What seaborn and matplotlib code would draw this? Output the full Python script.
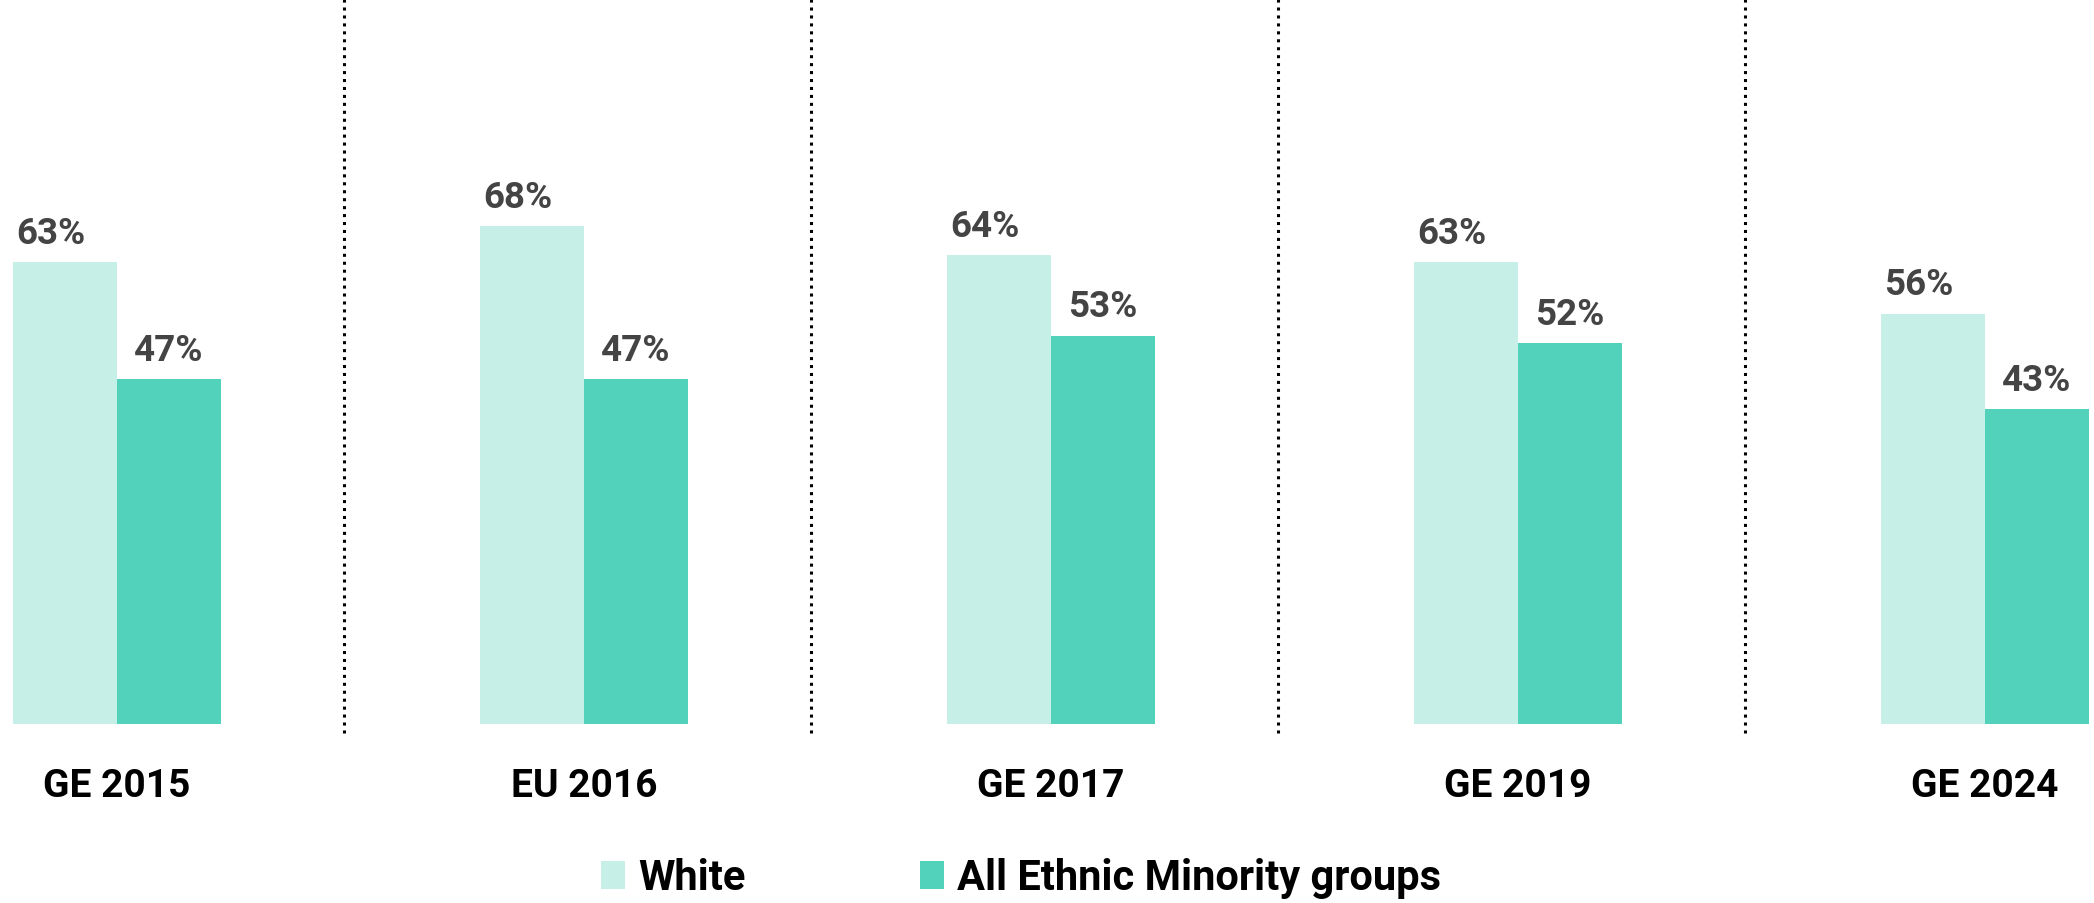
import numpy as np
import pandas as pd
import seaborn as sns
import matplotlib.pyplot as plt
from matplotlib.patches import Patch

# data
events = ["GE 2015", "EU 2016", "GE 2017", "GE 2019", "GE 2024"]
white = [63, 68, 64, 63, 56]
minority = [47, 47, 53, 52, 43]
groups = ["White", "All Ethnic Minority groups"]
colors = ["#C6EFE8", "#52D1BB"]

df = pd.DataFrame({
    "event": events * 2,
    "share": white + minority,
    "group": [groups[0]] * len(events) + [groups[1]] * len(events),
})

sns.set_style("white")
plt.rcParams["font.family"] = ["Roboto", "DejaVu Sans"]

fig = plt.figure(figsize=(20.94, 9.04), dpi=100)
ax = fig.add_axes([0, 179 / 904, 1, 725 / 904])

sns.barplot(data=df, x="event", y="share", hue="group", hue_order=groups,
            palette=colors, width=0.445, saturation=1, linewidth=0, ax=ax)
ax.legend_.remove()

ax.set_xlim(-117 / 467, (2094 - 117) / 467)
ax.set_ylim(0, 725 / 7.33)
ax.axis("off")

# dotted separators between events
for i in range(len(events) - 1):
    ax.axvline(i + 0.487, ymin=-0.012, ymax=1, color="black",
               linestyle=(0, (1, 1.6)), linewidth=2.2, clip_on=False)

bw = 0.445 / 2
for i, (w, m) in enumerate(zip(white, minority)):
    ax.text(i - bw / 2 - 0.03, w + 2.6, f"{w}%", ha="center", va="baseline",
            fontsize=26.5, fontweight="bold", color="#444444")
    ax.text(i + bw / 2, m + 2.6, f"{m}%", ha="center", va="baseline",
            fontsize=26.5, fontweight="bold", color="#444444")
    ax.text(i, -9.8, events[i], ha="center", va="baseline",
            fontsize=28, fontweight="bold", color="black", clip_on=False)

handles = [Patch(facecolor=c, edgecolor="none", label=g) for c, g in zip(colors, groups)]
leg = fig.legend(handles=handles, loc="center", bbox_to_anchor=(1021 / 2094, 25 / 904),
                 ncol=2, frameon=False, prop={"size": 30, "weight": "bold"},
                 handlelength=0.58, handleheight=0.65, handletextpad=0.3,
                 columnspacing=4.2)
for t in leg.get_texts():
    t.set_color("black")

fig.savefig("out.png", dpi=100)
